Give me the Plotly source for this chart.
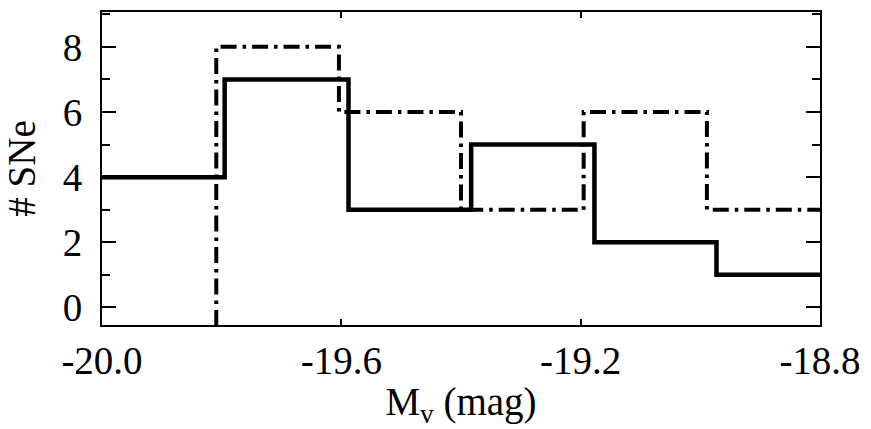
import plotly.graph_objects as go

# Histogram of peak absolute V magnitudes: two samples, stepped outlines
solid_edges = [-20.0, -19.795, -19.588, -19.383, -19.177, -18.973, -18.8]
solid_counts = [4, 7, 3, 5, 2, 1]

dashdot_edges = [-19.809, -19.604, -19.400, -19.195, -18.989, -18.8]
dashdot_counts = [8, 6, 3, 6, 3]

x_range = [-20.0, -18.8]
y_range = [-0.54, 9.07]
x_ticks = [-20.0, -19.6, -19.2, -18.8]
x_ticklabels = ["-20.0", "-19.6", "-19.2", "-18.8"]
y_ticks = [0, 2, 4, 6, 8]
y_minor_ticks = [1, 3, 5, 7, 9]

FONT = "Liberation Serif"
SIZE = 39


def step_xy(edges, counts, baseline=None):
    """Turn bin edges + counts into points for an 'hv' stepped line."""
    xs, ys = [], []
    if baseline is not None:
        xs.append(edges[0])
        ys.append(baseline)
    xs.extend(edges[:-1])
    ys.extend(counts)
    xs.append(edges[-1])
    ys.append(counts[-1])
    return xs, ys


sx, sy = step_xy(solid_edges, solid_counts)
dx, dy = step_xy(dashdot_edges, dashdot_counts, baseline=y_range[0] - 1)

fig = go.Figure()
fig.add_trace(go.Scatter(
    x=dx, y=dy, mode="lines", line_shape="hv",
    line=dict(color="black", width=4, dash="16px,6px,3.5px,6px"),
    showlegend=False, hoverinfo="skip",
))
fig.add_trace(go.Scatter(
    x=sx, y=sy, mode="lines", line_shape="hv",
    line=dict(color="black", width=4.5),
    showlegend=False, hoverinfo="skip",
))

fig.update_layout(
    width=871, height=429,
    margin=dict(l=102, r=46, t=10, b=104),
    plot_bgcolor="white", paper_bgcolor="white",
    font=dict(family=FONT, size=SIZE, color="black"),
)
fig.update_xaxes(
    range=x_range, tickvals=x_ticks, ticktext=x_ticklabels,
    ticks="inside", ticklen=6, tickwidth=2, tickcolor="black",
    showline=True, linewidth=2, linecolor="black", mirror="allticks",
    showgrid=False, zeroline=False,
    title=dict(text="M<sub>v</sub> (mag)", font=dict(family=FONT, size=SIZE),
               standoff=10),
    tickfont=dict(family=FONT, size=SIZE), ticklabelstandoff=0,
)
fig.update_yaxes(
    range=y_range, tickvals=y_ticks,
    ticks="inside", ticklen=14, tickwidth=2, tickcolor="black",
    minor=dict(ticks="inside", ticklen=8, tickwidth=2, tickcolor="black",
               tickvals=y_minor_ticks, showgrid=False),
    showline=True, linewidth=2, linecolor="black", mirror="allticks",
    showgrid=False, zeroline=False,
    title=dict(text="# SNe", font=dict(family=FONT, size=SIZE), standoff=15),
    tickfont=dict(family=FONT, size=SIZE), ticklabelstandoff=10,
)

fig.write_html("out.html")
